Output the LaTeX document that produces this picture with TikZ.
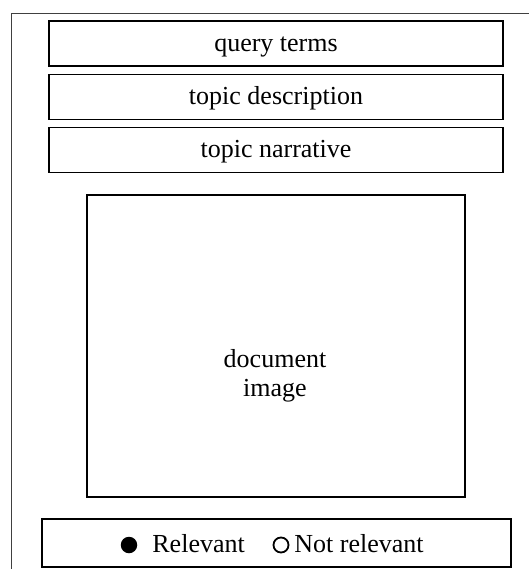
\documentclass[tikz,border=0pt]{standalone}
\usepackage{fontspec}
\setmainfont{Liberation Serif}
\tikzset{
  field/.style={draw, line width=0.75pt, minimum width=227pt, minimum height=22.5pt, inner sep=0pt,
    text height=9.5pt, text depth=2pt},
  legtext/.style={anchor=base west, inner sep=0pt},
}
\begin{document}
\begin{tikzpicture}[x=0.5pt, y=-0.5pt, font=\fontsize{13}{14.5}\selectfont]
  \useasboundingbox (0,0) rectangle (529,569);
  \draw[line width=0.5pt, black!75] (529,13) -- (11,13) -- (11,569);
  % topic fields
  \node[field] (query) at (276,43.5) {query terms};
  \node[field] (desc) at (276,97) {topic description};
  \node[field] (narr) at (276,150) {topic narrative};
  % document
  \node[draw, line width=0.75pt, minimum width=189pt, minimum height=151pt] (img) at (276,346) {};
  \node[align=center, inner sep=0pt] (imgtext) at (275,376) {document\\image};
  % judgement
  \node[draw, line width=0.75pt, minimum width=234.5pt, minimum height=24pt] (legend) at (276.5,543) {};
  \node[circle, fill, minimum size=8.25pt, inner sep=0pt] (reldot) at (129,545) {};
  \node[legtext] (rel) at (152,552) {Relevant};
  \node[circle, draw, line width=0.9pt, minimum size=7.5pt, inner sep=0pt] (nreldot) at (281,545) {};
  \node[legtext] (nrel) at (294,552) {Not relevant};
\end{tikzpicture}
\end{document}
